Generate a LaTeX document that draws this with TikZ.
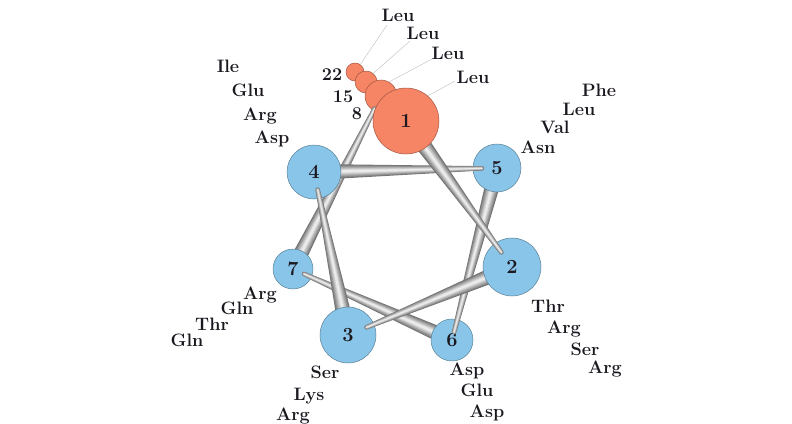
\documentclass[tikz,border=0pt]{standalone}
\usepackage{fontspec}
\usetikzlibrary{calc}
\definecolor{wheelblue}{RGB}{137,197,232}
\definecolor{wheelorange}{RGB}{246,133,102}
\definecolor{txt}{RGB}{28,24,32}
\tikzset{
  res/.style={circle, draw=#1!65!black, line width=0.5pt, fill=#1, inner sep=0pt,
    font=\fontsize{20}{20}\bfseries\selectfont, text=txt},
  aa/.style={anchor=base, font=\fontsize{18}{18}\bfseries\selectfont, text=txt, inner sep=0pt},
  leader/.style={draw=black!22, line width=0.5pt}
}
\newcommand\taper[4]{%
  \foreach \f/\g in {1/55,0.86/47,0.72/39,0.58/31,0.44/23,0.3/15,0.16/8}{
    \fill[black!\g] ($(#1)!{\f*#3}!90:(#2)$) -- ($(#2)!{\f*#4}!-90:(#1)$)
      -- ($(#2)!{\f*#4}!90:(#1)$) -- ($(#1)!{\f*#3}!-90:(#2)$) -- cycle;
    \fill[black!\g] (#2) circle[radius={\f*#4}];
  }}
\begin{document}
\begin{tikzpicture}[x=1pt,y=-1pt]
\useasboundingbox (0,0) rectangle (792,423);
% centres
\coordinate (p1) at (406,121);
\coordinate (p2) at (512,267);
\coordinate (p3) at (348,335);
\coordinate (p4) at (314,172);
\coordinate (p5) at (497,168);
\coordinate (p6) at (452,340);
\coordinate (p7) at (293,269);
\coordinate (p8) at (381,96);
\coordinate (p15) at (366,82);
\coordinate (p22) at (355,72);
% tips
\coordinate (e12) at ($(p2)!18pt!(p1)$);
\coordinate (e23) at ($(p3)!20pt!(p2)$);
\coordinate (e34) at ($(p4)!18pt!(p3)$);
\coordinate (e45) at ($(p5)!15pt!(p4)$);
\coordinate (e56) at ($(p6)!8pt!(p5)$);
\coordinate (e67) at ($(p7)!12pt!(p6)$);
\coordinate (e78) at ($(p8)!14pt!(p7)$);
% top labels
\node[aa] (leu1) at (398,21) {Leu};
\node[aa] (leu2) at (423,39) {Leu};
\node[aa] (leu3) at (448,59) {Leu};
\node[aa] (leu4) at (473,83) {Leu};
\coordinate (l1) at (387,25);
\coordinate (l2) at (410,41);
\coordinate (l3) at (432,59);
\coordinate (l4) at (455,81);
% small circles
\node[res=wheelorange, minimum size=18pt] (c22) at (p22) {};
\node[res=wheelorange, minimum size=22pt] (c15) at (p15) {};
\node[res=wheelorange, minimum size=32pt] (c8) at (p8) {};
\draw[leader] (l1) -- (c22.55);
\draw[leader] (l2) -- (c15.50);
\draw[leader] (l3) -- (c8.60);
\coordinate (q4) at (424,98);
\draw[leader] (l4) -- (q4);
% wheel
\taper{p7}{e78}{8pt}{2.2pt}
\node[res=wheelblue, minimum size=40pt] (c7) at (p7) {7};
\taper{p6}{e67}{8pt}{2.2pt}
\node[res=wheelblue, minimum size=42pt] (c6) at (p6) {6};
\taper{p5}{e56}{8pt}{2.2pt}
\node[res=wheelblue, minimum size=48pt] (c5) at (p5) {5};
\taper{p4}{e45}{8pt}{2.2pt}
\node[res=wheelblue, minimum size=54pt] (c4) at (p4) {4};
\taper{p3}{e34}{8.5pt}{2.2pt}
\node[res=wheelblue, minimum size=56pt] (c3) at (p3) {3};
\taper{p2}{e23}{8.5pt}{2.2pt}
\node[res=wheelblue, minimum size=58pt] (c2) at (p2) {2};
\taper{p1}{e12}{9pt}{2.2pt}
\node[res=wheelorange, minimum size=66pt] (c1) at (p1) {1};
% numbers of small circles
\node[aa] (n22) at (332,80) {22};
\node[aa] (n15) at (343,102) {15};
\node[aa] (n8) at (357,119) {8};
% left top
\node[aa] (a1) at (228,72) {Ile};
\node[aa] (a2) at (248,96) {Glu};
\node[aa] (a3) at (260,120) {Arg};
\node[aa] (a4) at (272,143) {Asp};
% right top
\node[aa] (b1) at (599,96) {Phe};
\node[aa] (b2) at (579,115) {Leu};
\node[aa] (b3) at (555,133) {Val};
\node[aa] (b4) at (538,153) {Asn};
% left bottom
\node[aa] (d1) at (260,299) {Arg};
\node[aa] (d2) at (237,314) {Gln};
\node[aa] (d3) at (212,330) {Thr};
\node[aa] (d4) at (187,346) {Gln};
% right bottom
\node[aa] (f1) at (548,312) {Thr};
\node[aa] (f2) at (564,333) {Arg};
\node[aa] (f3) at (585,355) {Ser};
\node[aa] (f4) at (605,373) {Arg};
% bottom left
\node[aa] (g1) at (325,378) {Ser};
\node[aa] (g2) at (309,400) {Lys};
\node[aa] (g3) at (293,420) {Arg};
% bottom right
\node[aa] (h1) at (467,375) {Asp};
\node[aa] (h2) at (477,396) {Glu};
\node[aa] (h3) at (487,417) {Asp};
\end{tikzpicture}
\end{document}
